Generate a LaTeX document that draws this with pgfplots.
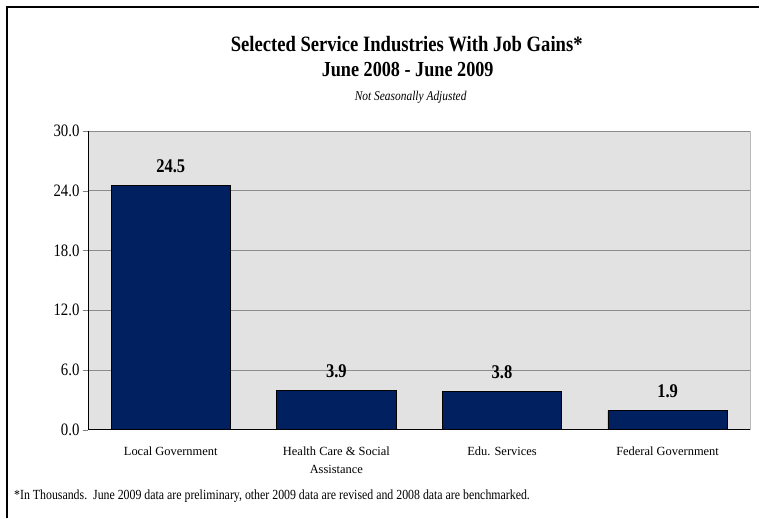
\documentclass[border=0pt]{standalone}
\usepackage{fontspec}
\setmainfont{Liberation Serif}
\newfontfamily\cond{Liberation Serif}[FakeStretch=0.85]
\usepackage{pgfplots}
\pgfplotsset{compat=1.18}

\definecolor{barblue}{RGB}{0,32,96}
\definecolor{plotbg}{RGB}{226,226,226}

\begin{document}
\begin{tikzpicture}[x=1bp,y=1bp]
\path (0,0) rectangle (760,518);
\draw[line width=1.2bp] (7,0) -- (7,511) -- (760,511);

\node[font=\cond\bfseries\fontsize{22}{22}\selectfont] at (407,474) {Selected Service Industries With Job Gains*};
\node[font=\cond\bfseries\fontsize{21.5}{21.5}\selectfont] at (408,448) {June 2008 - June 2009};
\node[font=\cond\itshape\fontsize{13.5}{13.5}\selectfont] at (411,421) {Not Seasonally Adjusted};
\node[anchor=west, inner sep=0pt, font=\cond\fontsize{14}{14}\selectfont] at (14,21)
  {*In Thousands.\ \ June 2009 data are preliminary, other 2009 data are revised and 2008 data are benchmarked.};

\begin{axis}[
  at={(88bp,88bp)}, anchor=south west,
  scale only axis, width=663bp, height=299bp,
  xmin=-0.5, xmax=3.5, ymin=0, ymax=30,
  axis background/.style={fill=plotbg, draw=gray!55},
  axis x line=bottom, axis y line=left,
  axis line style={black, -, line width=0.8bp},
  tick align=outside, major tick length=5bp,
  ytick={0,6,...,30},
  y tick label style={/pgf/number format/fixed, /pgf/number format/fixed zerofill,
    /pgf/number format/precision=1, /pgf/number format/assume math mode=true,
    font=\cond\fontsize{17.5}{17.5}\selectfont},
  ymajorgrids, grid style={gray!90, line width=0.6bp},
  xtick={0,1,2,3},
  xticklabels={Local Government, {Health Care \& Social\\Assistance}, Edu. Services, Federal Government},
  x tick label style={align=center, font=\fontsize{12.5}{18}\selectfont, yshift=-9bp},
  xtick style={draw=none},
  extra x ticks={-0.5,0.5,1.5,2.5,3.5},
  extra x tick labels={},
  extra x tick style={tick style={black, line width=0.8bp, draw}, major tick length=5bp},
  ybar, bar width=0.72,
  nodes near coords,
  nodes near coords style={font=\cond\bfseries\fontsize{19.5}{19.5}\selectfont, yshift=9bp,
    /pgf/number format/fixed, /pgf/number format/fixed zerofill,
    /pgf/number format/precision=1, /pgf/number format/assume math mode=true},
]
\addplot[fill=barblue, draw=black, line width=0.8bp] coordinates {(0,24.5) (1,3.9) (2,3.8) (3,1.9)};
\end{axis}
\end{tikzpicture}
\end{document}
